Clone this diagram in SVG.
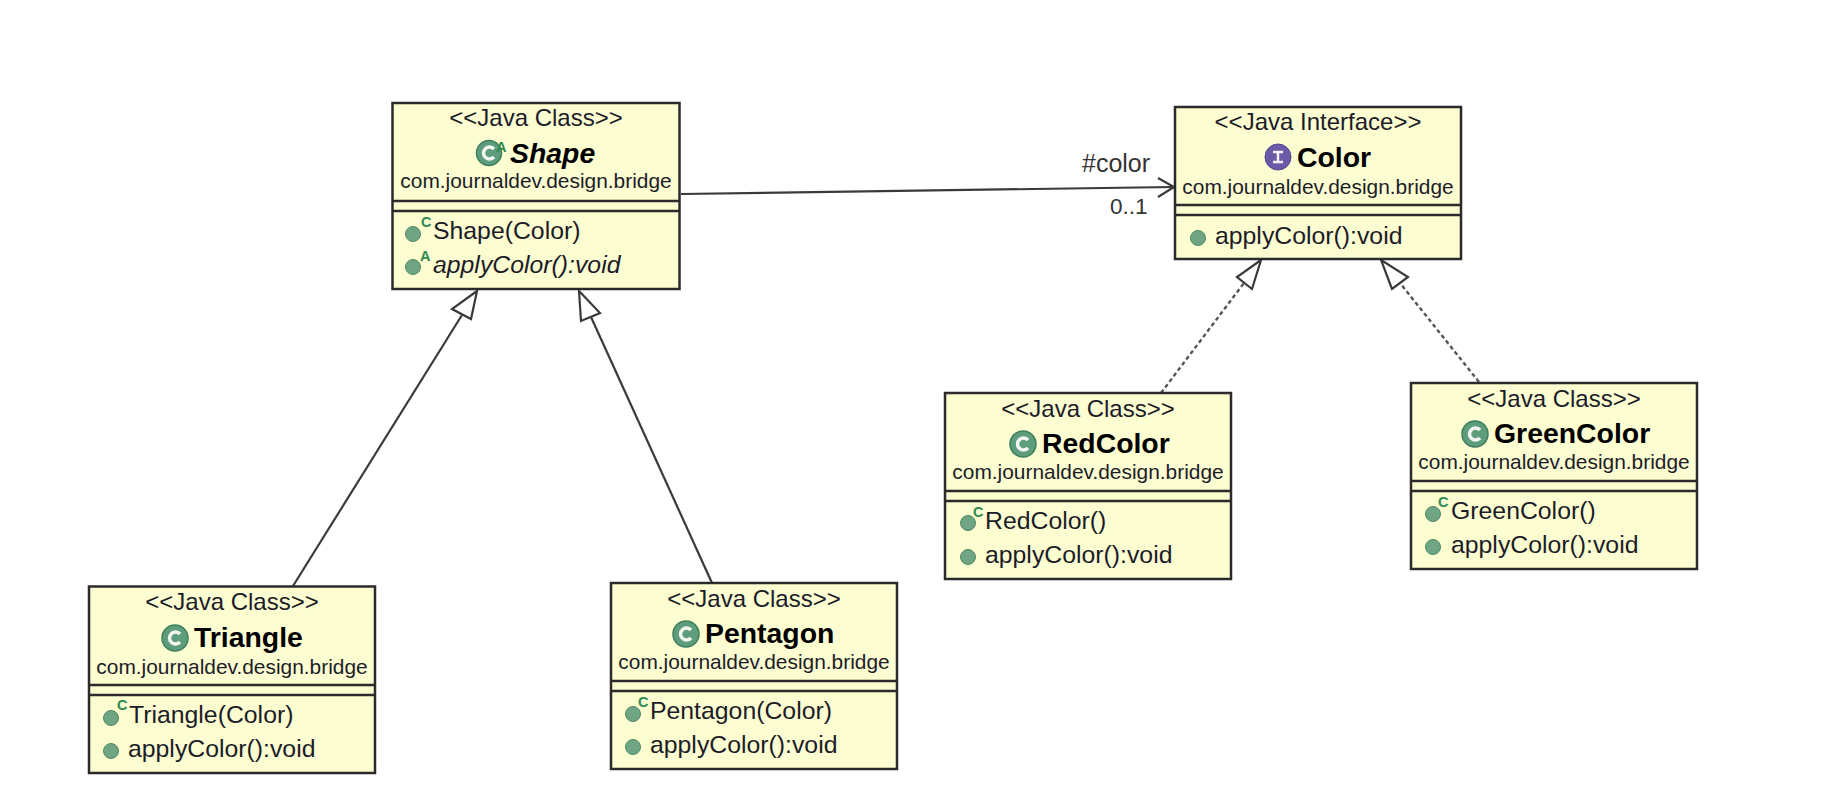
<svg xmlns="http://www.w3.org/2000/svg" width="1842" height="806" viewBox="0 0 1842 806">
<style>
text{font-family:"Liberation Sans",Arial,sans-serif;fill:#1c1c28}
.box{fill:#fdfdd2;stroke:#2a2a2a;stroke-width:2.500}
.div{stroke:#2a2a2a;stroke-width:2.500;fill:none}
.st{font-size:24px;text-anchor:middle}
.nm{font-size:28.400px;font-weight:bold;fill:#000}
.pk{font-size:20.900px;text-anchor:middle}
.mb{font-size:24.800px}
.lb{font-size:25px;fill:#333}
.lc{font-size:22.500px;fill:#333}
.dot{fill:#6fa583;stroke:#4f8a66;stroke-width:1}
.ico{fill:#5e9d7c;stroke:#3f7f5e;stroke-width:1.500}
.ico2{fill:#6a5aa8;stroke:#544590;stroke-width:1}
.g{fill:none;stroke:#f2f5f0;stroke-width:3.500}
.sup{font-size:14.500px;font-weight:bold;fill:#2f8a4f}
.ln{fill:none;stroke:#3a3a3a;stroke-width:2.200}
.dash{stroke:#555;stroke-width:2.400;stroke-dasharray:4 3}
.hd{fill:#fff;stroke:#3a3a3a;stroke-width:2.200}
</style>
<g id="connectors">
<path class="ln" d="M681 194L1173 187"/>
<path class="ln" d="M1158 178L1174 187L1158 197"/>
<path class="ln" d="M293 586L462 315"/>
<polygon class="hd" points="477,291 452,309 471,319"/>
<path class="ln" d="M712 583L591 317"/>
<polygon class="hd" points="579,291 581,321 600,313"/>
<path class="ln dash" d="M1161 393L1244 283"/>
<polygon class="hd" points="1261,260 1237,277 1252,289"/>
<path class="ln dash" d="M1479 382L1400 283"/>
<polygon class="hd" points="1381,260 1408,277 1392,289"/>
</g>
<text class="lb" x="1082" y="172">#color</text>
<text class="lc" x="1110" y="214">0..1</text>
<g id="shape">
<rect class="box" x="392.500" y="103" width="287" height="186"/>
<path class="div" d="M392 201H679M392 211H679"/>
<text class="st" x="536" y="126">&lt;&lt;Java Class&gt;&gt;</text>
<circle class="ico" cx="489" cy="153" r="12.500"/><path class="g" d="M494 149a6 6 0 1 0 0 8"/>
<text class="sup" x="496" y="152">A</text>
<text class="nm" x="510" y="163" font-style="italic">Shape</text>
<text class="pk" x="536" y="188">com.journaldev.design.bridge</text>
<circle class="dot" cx="413" cy="234" r="7.500"/><text class="sup" x="421" y="227">C</text>
<text class="mb" x="433" y="239">Shape(Color)</text>
<circle class="dot" cx="413" cy="267" r="7.500"/><text class="sup" x="420" y="261">A</text>
<text class="mb" x="433" y="273" font-style="italic">applyColor():void</text>
</g>
<g id="color">
<rect class="box" x="1175" y="107" width="286" height="152"/>
<path class="div" d="M1175 205H1461M1175 215H1461"/>
<text class="st" x="1318" y="130">&lt;&lt;Java Interface&gt;&gt;</text>
<circle class="ico2" cx="1278" cy="157" r="13"/><path d="M1273 152H1283M1278 152V162M1273 162H1283" fill="none" stroke="#f2f2f8" stroke-width="2.500"/>
<text class="nm" x="1297" y="167">Color</text>
<text class="pk" x="1318" y="194">com.journaldev.design.bridge</text>
<circle class="dot" cx="1198" cy="238" r="7.500"/>
<text class="mb" x="1215" y="244">applyColor():void</text>
</g>
<g id="redcolor">
<rect class="box" x="945" y="393" width="286" height="186"/>
<path class="div" d="M945 491H1231M945 501H1231"/>
<text class="st" x="1088" y="417">&lt;&lt;Java Class&gt;&gt;</text>
<circle class="ico" cx="1023" cy="444" r="13"/><path class="g" d="M1028 440a6 6 0 1 0 0 8"/>
<text class="nm" x="1042" y="453">RedColor</text>
<text class="pk" x="1088" y="479">com.journaldev.design.bridge</text>
<circle class="dot" cx="968" cy="523" r="7.500"/><text class="sup" x="973" y="517">C</text>
<text class="mb" x="985" y="529">RedColor()</text>
<circle class="dot" cx="968" cy="557" r="7.500"/>
<text class="mb" x="985" y="563">applyColor():void</text>
</g>
<g id="greencolor">
<rect class="box" x="1411" y="383" width="286" height="186"/>
<path class="div" d="M1411 481H1697M1411 491H1697"/>
<text class="st" x="1554" y="407">&lt;&lt;Java Class&gt;&gt;</text>
<circle class="ico" cx="1475" cy="434" r="13"/><path class="g" d="M1480 430a6 6 0 1 0 0 8"/>
<text class="nm" x="1494" y="443">GreenColor</text>
<text class="pk" x="1554" y="469">com.journaldev.design.bridge</text>
<circle class="dot" cx="1433" cy="514" r="7.500"/><text class="sup" x="1438" y="507">C</text>
<text class="mb" x="1451" y="519">GreenColor()</text>
<circle class="dot" cx="1433" cy="547" r="7.500"/>
<text class="mb" x="1451" y="553">applyColor():void</text>
</g>
<g id="triangle">
<rect class="box" x="89" y="586.500" width="286" height="186.500"/>
<path class="div" d="M89 685H375M89 695H375"/>
<text class="st" x="232" y="610">&lt;&lt;Java Class&gt;&gt;</text>
<circle class="ico" cx="175" cy="638" r="13"/><path class="g" d="M180 634a6 6 0 1 0 0 8"/>
<text class="nm" x="194" y="647">Triangle</text>
<text class="pk" x="232" y="674">com.journaldev.design.bridge</text>
<circle class="dot" cx="111" cy="718" r="7.500"/><text class="sup" x="117" y="710">C</text>
<text class="mb" x="129" y="723">Triangle(Color)</text>
<circle class="dot" cx="111" cy="751" r="7.500"/>
<text class="mb" x="128" y="757">applyColor():void</text>
</g>
<g id="pentagon">
<rect class="box" x="611" y="583" width="286" height="186"/>
<path class="div" d="M611 681H897M611 691H897"/>
<text class="st" x="754" y="607">&lt;&lt;Java Class&gt;&gt;</text>
<circle class="ico" cx="686" cy="634" r="13"/><path class="g" d="M691 630a6 6 0 1 0 0 8"/>
<text class="nm" x="705" y="643">Pentagon</text>
<text class="pk" x="754" y="669">com.journaldev.design.bridge</text>
<circle class="dot" cx="633" cy="714" r="7.500"/><text class="sup" x="638" y="707">C</text>
<text class="mb" x="650" y="719">Pentagon(Color)</text>
<circle class="dot" cx="633" cy="747" r="7.500"/>
<text class="mb" x="650" y="753">applyColor():void</text>
</g>
</svg>
